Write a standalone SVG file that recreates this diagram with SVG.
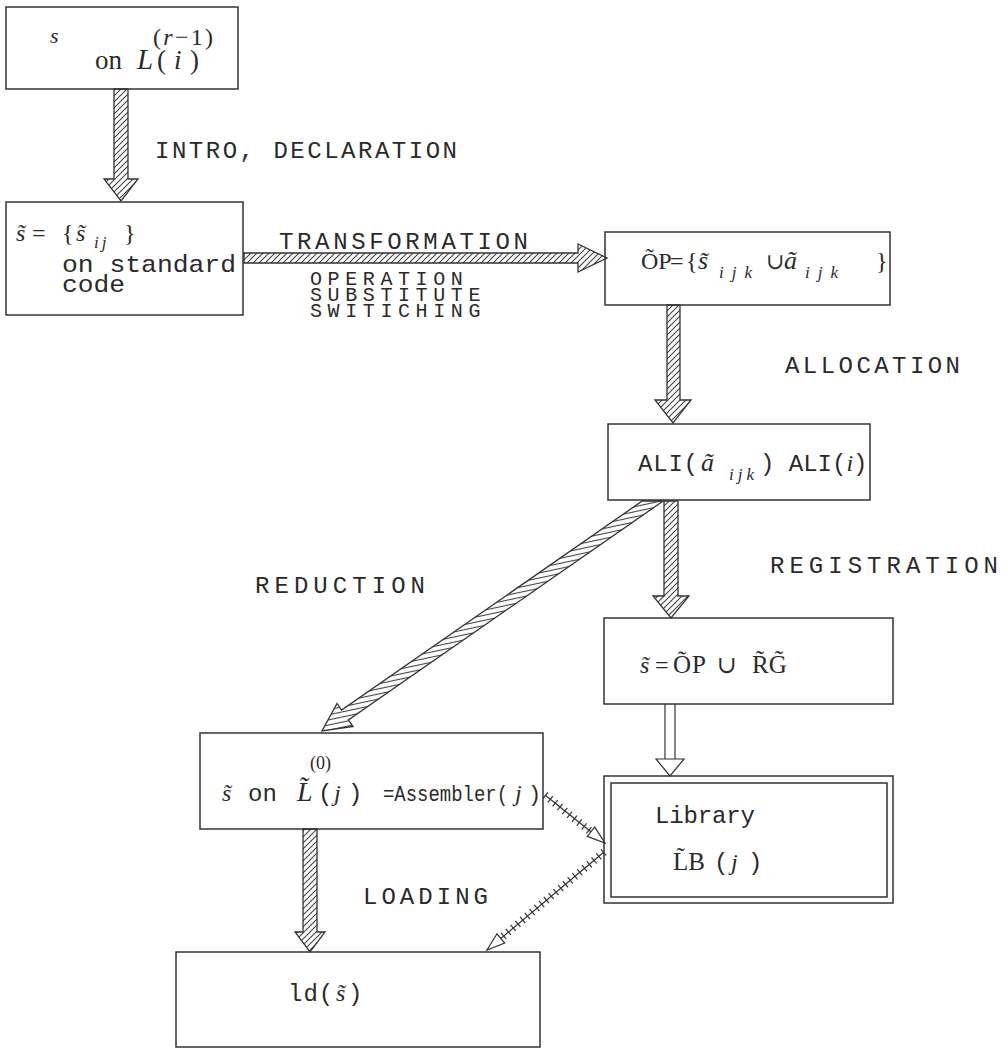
<svg xmlns="http://www.w3.org/2000/svg" width="1007" height="1050" viewBox="0 0 1007 1050">
<style>
.box{fill:none;stroke:#333;stroke-width:1.5}
.mono{font-family:"Liberation Mono","DejaVu Sans Mono",monospace;fill:#2a2a2a}
.ser{font-family:"Liberation Serif","DejaVu Serif",serif;fill:#2a2a2a}
.it{font-style:italic}
.lbl{font-family:"Liberation Mono","DejaVu Sans Mono",monospace;fill:#2a2a2a;font-size:24px}
.lbs{font-family:"Liberation Mono","DejaVu Sans Mono",monospace;fill:#2a2a2a;font-size:20px;letter-spacing:5.6px}
.harrow{stroke:#333;stroke-width:1.3;stroke-linejoin:miter}
.xline{stroke:#333;stroke-width:1.2;fill:none}
.xtick{stroke:#333;stroke-width:8;stroke-dasharray:1.2 5;fill:none}
.ohead{fill:#fff;stroke:#333;stroke-width:1.2}
</style>
<defs>
<pattern id="hatch" patternUnits="userSpaceOnUse" width="6" height="6">
<rect width="6" height="6" fill="#fff"/>
<path d="M-1,1 l2,-2 M0,6 l6,-6 M5,7 l2,-2" stroke="#444" stroke-width="1.1"/>
</pattern>
<pattern id="hatchH" patternUnits="userSpaceOnUse" width="6" height="5" patternTransform="rotate(-12)">
<rect width="6" height="5" fill="#fff"/>
<path d="M0,2.5 h6" stroke="#444" stroke-width="1.1"/>
</pattern>
</defs>
<rect width="1007" height="1050" fill="#fff"/>

<g id="connectors">
<polygon id="intro" class="harrow" fill="url(#hatch)" points="114,89 128,89 128,179 138,179 121,201 104,179 114,179"/>
<polygon id="transformation" class="harrow" fill="url(#hatch)" points="244,253 578,253 578,244 607,258 578,272 578,263 244,263"/>
<polygon id="allocation" class="harrow" fill="url(#hatch)" points="667,305 680,305 680,400 691,400 673,423 655,400 667,400"/>
<polygon id="registration" class="harrow" fill="url(#hatch)" points="664,501 678,501 678,596 689,596 671,618 653,596 664,596"/>
<polygon id="reduction" class="harrow" fill="url(#hatchH)" points="642.2,501 663.2,501 348.4,720 353,726.5 322,731 337,703.5 341.6,710.1"/>
<polygon id="loading" class="harrow" fill="url(#hatch)" points="303,829 317,829 317,932 325,932 310,952 295,932 303,932"/>
<g id="rg-to-library">
<line class="xline" x1="665" y1="704" x2="665" y2="759"/>
<line class="xline" x1="675" y1="704" x2="675" y2="759"/>
<polygon class="ohead" points="656,759 684,759 670,776"/>
</g>
<g id="asm-to-library">
<line class="xline" x1="545" y1="795" x2="605" y2="843"/>
<line class="xtick" x1="545" y1="795" x2="591" y2="832"/>
<polygon class="ohead" points="587.2,836.4 605,843 594.7,827.1"/>
</g>
<g id="library-to-ld">
<line class="xline" x1="604" y1="852" x2="487" y2="950"/>
<line class="xtick" x1="604" y1="852" x2="501" y2="938"/>
<polygon class="ohead" points="497,933.8 487,950 504.7,943"/>
</g>
<text class="lbl" x="155" y="158" textLength="302" lengthAdjust="spacing">INTRO, DECLARATION</text>
<text class="lbl" x="279" y="249" textLength="249" lengthAdjust="spacing">TRANSFORMATION</text>
<text class="lbs" x="310" y="285">OPERATION<tspan x="310" dy="16">SUBSTITUTE</tspan><tspan x="310" dy="16">SWITICHING</tspan></text>
<text class="lbl" x="785" y="373" textLength="175" lengthAdjust="spacing">ALLOCATION</text>
<text class="lbl" x="770" y="573" textLength="228" lengthAdjust="spacing">REGISTRATION</text>
<text class="lbl" x="255" y="593" textLength="170" lengthAdjust="spacing">REDUCTION</text>
<text class="lbl" x="363" y="904" textLength="125" lengthAdjust="spacing">LOADING</text>
</g>

<g id="n-source">
<rect class="box" x="6" y="7" width="232" height="82"/>
<text class="ser it" x="50" y="43" font-size="22">s</text>
<text class="ser" x="153" y="45" font-size="24" textLength="60" lengthAdjust="spacing">(<tspan class="it">r</tspan>−1)</text>
<text class="ser" x="95" y="69" font-size="27">on</text>
<text class="ser" x="137" y="69" font-size="27"><tspan class="it" font-size="29">L</tspan><tspan x="157">(</tspan><tspan class="it" x="174">i</tspan><tspan x="190">)</tspan></text>
</g>

<g id="n-standard">
<rect class="box" x="6" y="202" width="237" height="113"/>
<text class="ser" x="16" y="241" font-size="24"><tspan class="it">s&#x303;</tspan><tspan x="32">=</tspan><tspan x="62">{</tspan><tspan class="it" x="76">s&#x303;</tspan><tspan class="it" x="94" dy="7" font-size="17" letter-spacing="3">ij</tspan><tspan x="124" dy="-7">}</tspan></text>
<text class="mono" x="62" y="272" font-size="24" textLength="174" lengthAdjust="spacingAndGlyphs">on standard</text>
<text class="mono" x="62" y="292" font-size="24" textLength="63" lengthAdjust="spacingAndGlyphs">code</text>
</g>

<g id="n-op">
<rect class="box" x="605" y="232" width="285" height="73"/>
<text class="ser" x="641" y="269" font-size="24">O&#x303;P<tspan x="670">=</tspan><tspan x="686">{</tspan><tspan class="it" x="698" font-size="26">s&#x303;</tspan><tspan class="it" x="719" dy="9" font-size="17" letter-spacing="8">ijk</tspan><tspan x="766" dy="-9" font-size="22">∪</tspan><tspan class="it" x="784" font-size="26">a&#x303;</tspan><tspan class="it" x="805" dy="9" font-size="17" letter-spacing="8">ijk</tspan><tspan x="876" dy="-9">}</tspan></text>
</g>

<g id="n-ali">
<rect class="box" x="608" y="424" width="262" height="76"/>
<text class="mono" x="638" y="471" font-size="24" textLength="60" lengthAdjust="spacing">ALI(</text>
<text class="ser it" x="701" y="471" font-size="26">a&#x303;<tspan x="729" dy="9" font-size="17" letter-spacing="4">ijk</tspan></text>
<text class="mono" x="760" y="471" font-size="24">) ALI(<tspan class="ser it">i</tspan>)</text>
</g>

<g id="n-rg">
<rect class="box" x="604" y="618" width="289" height="86"/>
<text class="ser" x="640" y="673" font-size="24"><tspan class="it">s&#x303;</tspan><tspan x="655">=</tspan><tspan x="673" font-size="25">O&#x303;</tspan><tspan x="692" font-size="25">P</tspan><tspan x="717">∪</tspan><tspan x="752" font-size="25">R&#x303;G&#x303;</tspan></text>
</g>

<g id="n-library">
<rect class="box" x="604" y="776" width="289" height="127"/>
<rect class="box" x="611" y="783" width="276" height="114"/>
<text class="mono" x="655" y="823" font-size="24" textLength="100" lengthAdjust="spacing">Library</text>
<text class="ser" x="673" y="870" font-size="25">L&#x303;B<tspan class="mono" x="714" font-size="24">(</tspan><tspan class="it" x="731" font-size="24">j</tspan><tspan class="mono" x="748" font-size="24">)</tspan></text>
</g>

<g id="n-assembler">
<rect class="box" x="200" y="733" width="343" height="96"/>
<text class="ser it" x="222" y="801" font-size="24">s&#x303;</text>
<text class="mono" x="248" y="801" font-size="24">on</text>
<text class="ser" x="310" y="769" font-size="18">(0)</text>
<text class="ser it" x="297" y="801" font-size="28">L&#x303;<tspan class="mono" x="318" font-size="24" font-style="normal">(</tspan><tspan x="334" font-size="24">j</tspan><tspan class="mono" x="348" font-size="24" font-style="normal">)</tspan></text>
<text class="mono" x="383" y="801" font-size="22" textLength="125" lengthAdjust="spacingAndGlyphs">=Assembler(</text>
<text class="ser it" x="515" y="801" font-size="24">j</text>
<text class="mono" x="528" y="801" font-size="22">)</text>
</g>

<g id="n-ld">
<rect class="box" x="176" y="952" width="364" height="95"/>
<text class="mono" x="288" y="1001" font-size="24" letter-spacing="1">ld(<tspan class="ser it" x="336">s&#x303;</tspan><tspan x="348">)</tspan></text>
</g>
</svg>
